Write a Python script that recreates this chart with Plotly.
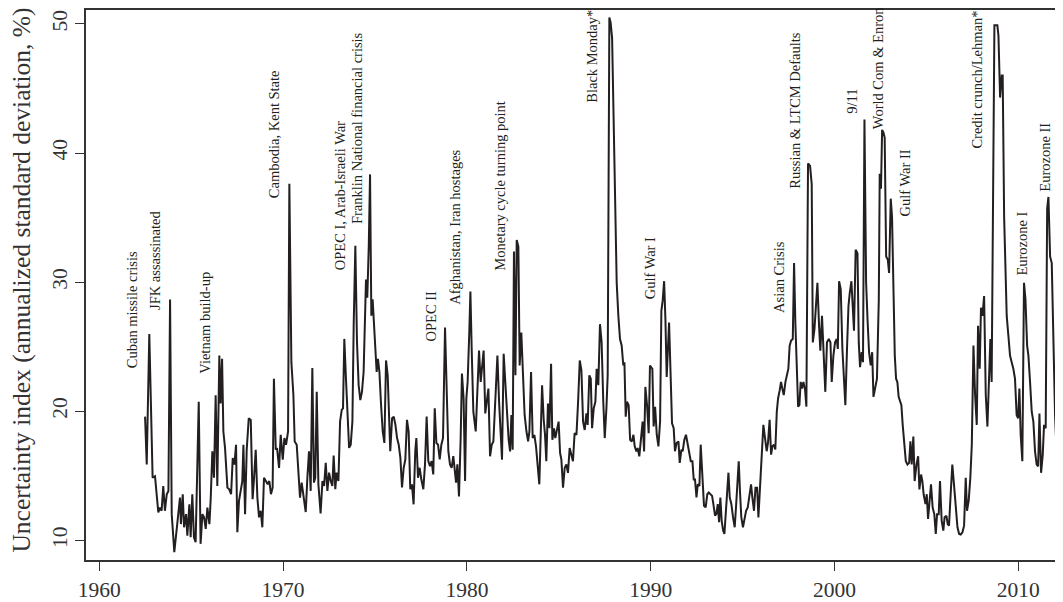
import plotly.graph_objects as go

# monthly uncertainty index (annualized std. dev., %)
years = [
    1962.49, 1962.58, 1962.72, 1962.90, 1963.03, 1963.21, 1963.30, 1963.39, 1963.48, 1963.57,
    1963.67, 1963.76, 1963.85, 1963.94, 1964.08, 1964.21, 1964.30, 1964.39, 1964.44, 1964.54,
    1964.61, 1964.72, 1964.79, 1964.90, 1964.97, 1965.06, 1965.15, 1965.24, 1965.41, 1965.51,
    1965.61, 1965.70, 1965.79, 1965.88, 1965.99, 1966.06, 1966.15, 1966.24, 1966.33, 1966.42,
    1966.53, 1966.60, 1966.68, 1966.75, 1966.84, 1966.97, 1967.07, 1967.17, 1967.26, 1967.35,
    1967.44, 1967.51, 1967.60, 1967.69, 1967.78, 1967.84, 1967.93, 1968.02, 1968.13, 1968.24,
    1968.34, 1968.42, 1968.51, 1968.60, 1968.69, 1968.78, 1968.87, 1968.96, 1969.07, 1969.16,
    1969.25, 1969.34, 1969.43, 1969.50, 1969.60, 1969.67, 1969.78, 1969.87, 1969.98, 1970.07,
    1970.16, 1970.27, 1970.34, 1970.45, 1970.56, 1970.63, 1970.74, 1970.83, 1970.92,
    1971.01, 1971.10, 1971.23, 1971.32, 1971.41, 1971.50, 1971.59, 1971.68, 1971.75, 1971.83,
    1971.92, 1972.04, 1972.14, 1972.23, 1972.32, 1972.41, 1972.50, 1972.59, 1972.68, 1972.75,
    1972.84, 1972.91, 1973.01, 1973.10, 1973.19, 1973.26, 1973.33, 1973.42, 1973.51, 1973.59,
    1973.68, 1973.77, 1973.84, 1973.93, 1974.02, 1974.11, 1974.20, 1974.29, 1974.38, 1974.46,
    1974.51, 1974.58, 1974.66, 1974.73, 1974.80, 1974.87, 1974.95, 1975.02, 1975.09, 1975.16,
    1975.24, 1975.33, 1975.42, 1975.51, 1975.60, 1975.69, 1975.76, 1975.83, 1975.93, 1976.02,
    1976.11, 1976.20, 1976.29, 1976.38, 1976.47, 1976.56, 1976.65, 1976.74, 1976.83, 1976.92,
    1977.01, 1977.10, 1977.19, 1977.25, 1977.34, 1977.43, 1977.52, 1977.63, 1977.72, 1977.81,
    1977.90, 1977.99, 1978.08, 1978.17, 1978.25, 1978.34, 1978.43, 1978.52, 1978.61, 1978.70,
    1978.81, 1978.90, 1978.99, 1979.08, 1979.17, 1979.26, 1979.34, 1979.41, 1979.48, 1979.57,
    1979.66, 1979.73, 1979.82, 1979.90, 1979.97, 1980.04, 1980.13, 1980.19,
    1980.26, 1980.35, 1980.48, 1980.57, 1980.66, 1980.75, 1980.82, 1980.91, 1981.00, 1981.08,
    1981.17, 1981.26, 1981.35, 1981.44, 1981.55, 1981.66, 1981.75, 1981.84, 1981.91, 1982.00,
    1982.09, 1982.18, 1982.27, 1982.35, 1982.42, 1982.49, 1982.56, 1982.64, 1982.71, 1982.80,
    1982.87, 1982.96, 1983.05, 1983.14, 1983.24, 1983.33, 1983.40, 1983.49, 1983.58, 1983.67,
    1983.76, 1983.85, 1983.94, 1984.01, 1984.09, 1984.18, 1984.25, 1984.32, 1984.41, 1984.49,
    1984.58, 1984.65, 1984.74, 1984.81, 1984.90, 1984.99, 1985.07, 1985.14, 1985.23, 1985.32,
    1985.41, 1985.50, 1985.59, 1985.68, 1985.77, 1985.86, 1985.96, 1986.05, 1986.14, 1986.23,
    1986.32, 1986.41, 1986.50, 1986.57, 1986.66, 1986.74, 1986.81, 1986.90, 1986.99, 1987.06,
    1987.15, 1987.24, 1987.33, 1987.42, 1987.50, 1987.59, 1987.66, 1987.75, 1987.82, 1987.90,
    1987.97, 1988.06, 1988.15, 1988.24, 1988.33, 1988.42, 1988.51, 1988.57, 1988.64, 1988.71,
    1988.80, 1988.88, 1988.97, 1989.06, 1989.13, 1989.22, 1989.29, 1989.38, 1989.47, 1989.56,
    1989.64, 1989.71, 1989.80, 1989.89, 1989.96,
    1990.09, 1990.16, 1990.24, 1990.33, 1990.42, 1990.51, 1990.58, 1990.65, 1990.73, 1990.80,
    1990.87, 1991.00, 1991.07, 1991.16, 1991.25, 1991.32, 1991.41, 1991.51, 1991.58, 1991.67,
    1991.74, 1991.83, 1991.92, 1992.01, 1992.10, 1992.18, 1992.27, 1992.34, 1992.41, 1992.49,
    1992.56, 1992.65, 1992.72, 1992.81, 1992.90, 1992.99, 1993.08, 1993.16, 1993.25, 1993.34,
    1993.41, 1993.50, 1993.57, 1993.65, 1993.72, 1993.79, 1993.86, 1993.94, 1994.01, 1994.08,
    1994.15, 1994.23, 1994.30, 1994.39, 1994.48, 1994.57, 1994.64, 1994.72, 1994.79, 1994.86,
    1994.93, 1995.02, 1995.10, 1995.19, 1995.28, 1995.37, 1995.46, 1995.53, 1995.62, 1995.70,
    1995.79, 1995.86, 1995.95, 1996.04, 1996.13, 1996.22, 1996.31, 1996.38, 1996.47, 1996.55,
    1996.62, 1996.71, 1996.78, 1996.86, 1996.93, 1997.02, 1997.09, 1997.16, 1997.24, 1997.33,
    1997.42, 1997.49, 1997.56, 1997.64, 1997.73, 1997.80, 1997.87, 1997.94, 1998.02, 1998.09,
    1998.16, 1998.23, 1998.31, 1998.40, 1998.47, 1998.56, 1998.67, 1998.76,
    1998.82, 1998.91, 1999.00, 1999.07, 1999.16, 1999.23, 1999.32, 1999.41, 1999.50, 1999.59,
    1999.69, 1999.78, 1999.85, 1999.94, 2000.03, 2000.12, 2000.18, 2000.25, 2000.34, 2000.43,
    2000.52, 2000.59, 2000.68, 2000.76, 2000.83, 2000.92, 2000.99, 2001.06, 2001.15, 2001.25,
    2001.32, 2001.39, 2001.48, 2001.55, 2001.63, 2001.72, 2001.80, 2001.88, 2001.97, 2002.05,
    2002.12, 2002.22, 2002.31, 2002.41, 2002.46, 2002.53, 2002.59, 2002.66, 2002.73, 2002.81,
    2002.90, 2002.97, 2003.06, 2003.13, 2003.20, 2003.28, 2003.35, 2003.42, 2003.49, 2003.57,
    2003.64, 2003.71, 2003.80, 2003.88, 2003.97, 2004.06, 2004.13, 2004.20, 2004.29, 2004.36,
    2004.46, 2004.55, 2004.62, 2004.71, 2004.78, 2004.85, 2004.95, 2005.02, 2005.09, 2005.18,
    2005.25, 2005.34, 2005.43, 2005.51, 2005.58, 2005.67, 2005.74, 2005.83, 2005.92, 2005.99,
    2006.09, 2006.16, 2006.23, 2006.32, 2006.41, 2006.50, 2006.60, 2006.69, 2006.78, 2006.87,
    2006.96, 2007.05, 2007.14, 2007.21, 2007.30, 2007.39, 2007.47, 2007.56, 2007.65, 2007.74,
    2007.81, 2007.90, 2007.97, 2008.05, 2008.14, 2008.23, 2008.32, 2008.41, 2008.48, 2008.55,
    2008.61, 2008.70, 2008.79, 2008.86, 2008.92, 2009.01, 2009.10, 2009.15, 2009.23, 2009.28,
    2009.37, 2009.46, 2009.55, 2009.64, 2009.73, 2009.82, 2009.91, 2009.99, 2010.06, 2010.13,
    2010.22, 2010.31, 2010.39, 2010.48, 2010.55, 2010.64, 2010.73, 2010.82, 2010.91, 2011.00,
    2011.08, 2011.15, 2011.24, 2011.33, 2011.40, 2011.49, 2011.57, 2011.64, 2011.73, 2011.82,
    2011.91, 2012.00, 2012.09, 2012.16, 2012.25, 2012.31,
]

uncertainty = [
    19.59, 15.88, 25.98, 14.86, 14.98, 12.17, 12.55, 12.30, 14.22, 12.30,
    13.58, 13.83, 28.67, 12.04, 9.10, 10.76, 12.04, 13.32, 11.27, 13.58,
    11.02, 12.04, 10.38, 12.81, 10.25, 13.58, 10.25, 9.87, 20.74, 9.74,
    12.04, 11.79, 10.89, 12.55, 11.27, 13.19, 16.90, 14.86, 21.25, 14.22,
    24.32, 20.61, 24.07, 18.44, 17.16, 14.09, 13.96, 13.58, 16.39, 15.88,
    17.41, 10.64, 13.07, 13.83, 14.60, 17.41, 12.04, 17.03, 19.46, 19.33,
    13.19, 14.86, 17.03, 13.32, 11.79, 12.30, 11.02, 14.86, 14.60, 14.35,
    14.60, 13.58, 14.09, 22.53, 17.03, 17.16, 15.62, 18.18, 16.26, 17.93,
    17.41, 18.44, 37.62, 23.81, 21.25, 17.67, 17.41, 15.62, 13.32,
    14.48, 13.58, 12.20, 14.86, 16.91, 13.84, 23.36, 14.48, 14.86, 21.51,
    14.35, 12.10, 14.61, 14.22, 16.01, 13.84, 15.25, 14.61, 14.22, 16.58,
    13.97, 15.25, 14.61, 19.21, 20.11, 20.23, 25.61, 22.54, 19.47, 17.17,
    17.42, 19.21, 26.63, 32.82, 25.35, 22.03, 20.87, 21.51, 23.05, 27.91,
    30.21, 28.80, 32.77, 38.35, 27.40, 28.68, 26.63, 25.35, 23.05, 24.07,
    23.05, 20.49, 18.44, 17.55, 23.94, 22.79, 19.98, 16.91, 19.47, 19.59,
    18.96, 17.93, 17.42, 16.40, 14.10, 15.63, 16.27, 19.34, 18.44, 13.97,
    14.35, 12.80, 16.91, 17.93, 14.86, 15.63, 14.74, 13.97, 15.89, 19.59,
    16.14, 15.76, 16.14, 15.12, 20.23, 17.55, 17.42, 16.27, 17.42, 17.93,
    26.50, 22.03, 16.91, 15.89, 15.63, 16.53, 15.63, 14.48, 15.89, 13.40,
    17.93, 22.92, 21.00, 14.61, 21.00, 22.28, 26.12, 29.27,
    24.83, 19.97, 18.44, 21.76, 24.70, 22.27, 23.30, 24.70, 19.84, 20.74,
    21.76, 16.52, 17.41, 17.67, 20.48, 24.32, 20.74, 18.69, 16.26, 24.45,
    22.27, 19.97, 17.80, 16.90, 19.72, 17.03, 32.38, 22.79, 33.27, 32.76,
    23.55, 26.11, 23.17, 19.72, 18.44, 17.67, 18.44, 23.04, 17.93, 18.18,
    17.29, 15.88, 14.35, 17.93, 22.02, 19.33, 18.18, 16.14, 20.61, 18.69,
    23.68, 17.80, 18.69, 17.93, 18.69, 19.20, 16.77, 16.26, 14.09, 15.62,
    15.88, 15.24, 17.16, 16.65, 16.14, 18.31, 18.18, 20.74, 23.94, 23.17,
    19.20, 18.56, 19.84, 18.95, 22.79, 22.53, 18.69, 20.23, 20.74, 23.30,
    22.02, 26.75, 25.34, 20.74, 17.93, 20.23, 22.79, 50.50, 50.10, 48.90,
    43.30, 36.30, 29.95, 27.40, 25.60, 25.10, 23.55, 23.80, 19.59, 20.74,
    20.48, 17.80, 17.67, 18.18, 17.29, 16.90, 17.16, 16.52, 17.93, 19.20,
    16.90, 21.89, 20.48, 18.31, 23.55,
    23.30, 18.83, 20.36, 18.19, 17.29, 19.21, 27.78, 28.55, 30.08, 27.14,
    22.66, 26.88, 23.30, 19.08, 18.70, 16.91, 17.55, 17.67, 16.01, 17.04,
    16.91, 17.80, 18.19, 17.42, 16.78, 16.14, 16.14, 14.73, 14.73, 13.33,
    14.35, 14.22, 17.42, 14.60, 12.69, 12.56, 13.58, 13.71, 13.58, 13.45,
    12.81, 11.92, 12.05, 12.81, 11.41, 13.33, 11.54, 10.77, 10.51, 12.05,
    13.71, 15.25, 13.33, 12.81, 11.79, 11.02, 12.56, 15.12, 16.14, 13.71,
    11.79, 11.02, 11.79, 12.30, 12.56, 13.33, 14.35, 13.33, 12.30, 14.09,
    14.09, 11.79, 14.09, 16.40, 18.95, 17.93, 16.91, 17.55, 19.34, 16.65,
    17.29, 17.42, 17.04, 19.98, 21.00, 21.64, 22.28, 21.77, 21.26, 22.28,
    23.05, 23.30, 25.09, 25.48, 25.60, 31.49, 26.88, 24.33, 20.36, 20.49,
    22.28, 21.77, 22.28, 21.64, 20.36, 39.20, 39.00, 37.60,
    25.34, 26.37, 28.93, 29.95, 26.62, 24.70, 27.39, 23.81, 21.51, 25.34,
    25.60, 25.34, 22.27, 24.32, 25.34, 25.60, 24.83, 30.08, 29.44, 24.83,
    22.27, 20.48, 24.83, 28.16, 29.18, 30.08, 28.16, 26.24, 32.51, 32.25,
    25.34, 23.42, 24.58, 23.81, 42.60, 30.00, 27.00, 24.58, 23.55, 24.58,
    21.12, 21.76, 22.53, 28.67, 38.39, 37.24, 41.80, 41.60, 41.20, 31.99,
    31.74, 30.72, 36.47, 35.06, 29.95, 24.32, 22.53, 22.27, 21.12, 20.74,
    20.48, 18.95, 17.41, 16.14, 15.88, 16.01, 17.67, 15.88, 18.05, 14.60,
    15.88, 16.52, 13.96, 15.11, 14.60, 13.58, 12.81, 13.58, 11.66, 13.07,
    14.35, 12.55, 12.04, 10.51, 12.04, 12.04, 14.60, 11.53, 10.76, 11.79,
    11.91, 11.27, 11.15, 13.58, 15.88, 14.35, 12.30, 11.02, 10.51, 10.46,
    10.64, 11.15, 14.86, 12.30, 13.07, 14.86, 17.41, 25.09, 21.25, 18.95,
    26.62, 23.30, 28.03, 27.39, 28.93, 21.25, 18.82, 23.81, 25.60, 22.27,
    31.90, 49.90, 49.90, 49.90, 49.10, 44.30, 46.00, 46.00, 35.00, 31.74,
    27.39, 25.86, 24.32, 23.81, 23.30, 22.53, 19.72, 19.46, 21.76, 18.18,
    16.14, 29.95, 28.67, 25.09, 24.32, 22.27, 19.97, 19.20, 16.90, 15.88,
    15.75, 19.84, 15.24, 16.65, 18.95, 18.69, 35.70, 36.60, 31.99, 31.48,
    24.83, 19.72, 16.65, 14.98, 17.16, 17.29,
]

# event labels and where their lower end sits
events = [
    "Cuban missile crisis", "JFK assassinated", "Vietnam build-up",
    "Cambodia, Kent State", "OPEC I, Arab-Israeli War",
    "Franklin National financial crisis", "OPEC II", "Afghanistan, Iran hostages",
    "Monetary cycle turning point", "Black Monday*", "Gulf War I", "Asian Crisis",
    "Russian & LTCM Defaults", "9/11", "World Com & Enron", "Gulf War II",
    "Credit crunch/Lehman*", "Eurozone I", "Eurozone II",
]
event_x = [1961.78, 1963.03, 1965.75, 1969.50, 1973.10, 1974.02, 1978.05, 1979.35,
           1981.80, 1986.81, 1989.96, 1996.97, 1997.84, 2000.95, 2002.36, 2003.83,
           2007.75, 2010.15, 2011.45]
event_y = [23.15, 27.66, 22.76, 36.35, 30.74, 34.35, 25.22, 28.13,
           30.74, 43.71, 28.52, 27.45, 37.11, 42.92, 41.69, 34.97,
           40.19, 30.36, 36.89]

x_ticks = [1960, 1970, 1980, 1990, 2000, 2010]
y_ticks = [10, 20, 30, 40, 50]

serif = "Liberation Serif, Times New Roman, serif"
ink = "#231f20"
frame = "#333333"

fig = go.Figure()
fig.add_trace(go.Scatter(
    x=years, y=uncertainty, mode="lines",
    line=dict(color=ink, width=2), hoverinfo="x+y", showlegend=False,
))

for label, ex, ey in zip(events, event_x, event_y):
    fig.add_annotation(
        x=ex, y=ey, text=label, showarrow=False, textangle=-90,
        xanchor="center", yanchor="bottom",
        font=dict(family=serif, size=14.5, color=ink),
    )

# y-axis title placed by hand so it sits like the original
fig.add_annotation(
    xref="paper", yref="paper", x=-0.0655, y=0.508,
    text="Uncertainty index (annualized standard deviation, %)",
    showarrow=False, textangle=-90, xanchor="center", yanchor="middle",
    font=dict(family=serif, size=25.5, color=frame),
)

# the page adds an 8px body margin, so the figure is 8px smaller than the window
fig.update_layout(
    width=1055, height=594,
    margin=dict(l=78, r=0, t=0, b=39),
    paper_bgcolor="white", plot_bgcolor="white",
    font=dict(family=serif, color=frame),
)
fig.update_xaxes(
    range=[1959.276, 2012.432], tickvals=x_ticks,
    showgrid=False, zeroline=False,
    showline=True, linecolor=frame, linewidth=1.5, mirror=True,
    ticks="outside", ticklen=9, tickwidth=1.2, tickcolor=frame,
    tickfont=dict(family=serif, size=21.5, color=frame),
)
fig.update_yaxes(
    range=[8.488, 51.08], tickvals=y_ticks, tickangle=-90,
    showgrid=False, zeroline=False,
    showline=True, linecolor=frame, linewidth=1.5,
    ticks="outside", ticklen=9, tickwidth=1.2, tickcolor=frame,
    tickfont=dict(family=serif, size=21.5, color=frame),
)

fig.write_html("out.html")
